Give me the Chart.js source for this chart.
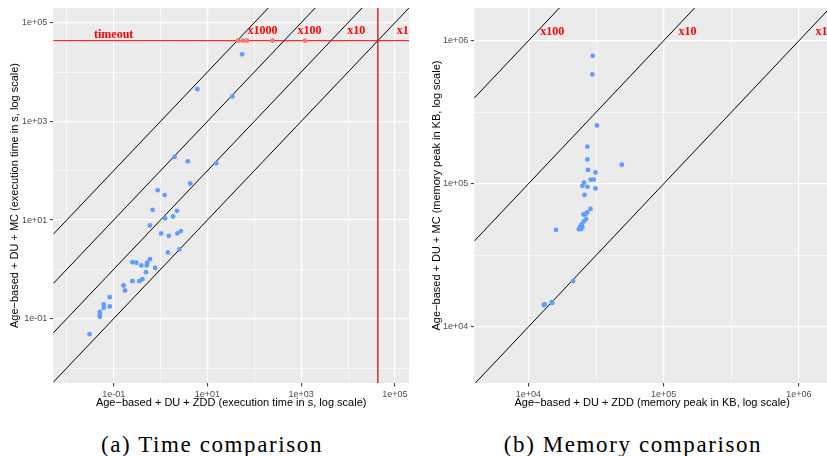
<!DOCTYPE html>
<html lang="en">
<head>
  <meta charset="UTF-8">
  <title>Time and memory comparison</title>
  <script src="https://cdn.jsdelivr.net/npm/chart.js@4/dist/chart.umd.min.js"></script>
  <style>
    html, body { margin: 0; padding: 0; background: #fff; overflow: hidden; }
    .panel { position: absolute; top: 0; height: 416px; overflow: hidden; }
    #panelA { left: 0; width: 413px; }
    #panelB { left: 415px; width: 412px; }
    .caption {
      position: absolute; top: 432px; width: 320px; text-align: center;
      font-family: "Liberation Serif", serif; font-size: 23px; color: #000;
      letter-spacing: 1.6px; white-space: nowrap;
    }
  </style>
</head>
<body>
  <div class="panel" id="panelA"><canvas id="timeChart" width="413" height="416"></canvas></div>
  <div class="panel" id="panelB"><canvas id="memChart" width="419" height="416"></canvas></div>
  <div class="caption" style="left:52px">(a) Time comparison</div>
  <div class="caption" style="left:473px">(b) Memory comparison</div>
<script>
  // execution time (s): ZDD variant on x, MC variant on y
  const timeZdd = [55, 6.1, 34, 2.0, 3.8, 15.4, 4.3, 0.87, 1.23, 0.68, 2.24, 1.25, 1.85, 0.59,
    1.03, 1.50, 2.29, 2.72, 1.43, 2.52, 0.252, 0.305, 0.39, 0.507, 0.521, 0.594, 0.769, 0.49,
    0.252, 0.354, 0.409, 0.163, 0.174, 0.0824, 0.0824, 0.0615, 0.0615, 0.0507, 0.0507, 0.0507, 0.0307];
  const timeMc = [22900, 4500, 3200, 190, 155, 141, 55, 40, 32, 16.1, 15.4, 10.8, 11.8, 7.76,
    5.35, 4.78, 5.35, 5.96, 2.20, 2.54, 1.40, 1.36, 1.20, 1.20, 1.36, 1.61, 1.07, 0.877,
    0.577, 0.577, 0.633, 0.471, 0.373, 0.273, 0.177, 0.194, 0.166, 0.137, 0.122, 0.109, 0.0485];
  // runs where MC hit the timeout
  const TIMEOUT = 43200;
  const timeoutZdd = [45, 57, 70, 245, 1200];

  // memory peak (KB)
  const memZdd = [29900, 29700, 32100, 27300, 27300, 49000, 27600, 31300, 28900, 30400, 25800,
    25100, 27300, 31300, 26000, 28800, 27200, 25500, 26400, 26700, 25700, 24700, 24100, 25100,
    23600, 24500, 16000, 21400, 13200, 13000, 15000, 14900];
  const memMc = [785000, 582000, 256000, 182000, 148000, 136000, 125000, 120000, 107000, 107000,
    102000, 96900, 95300, 92900, 83800, 66800, 63100, 61100, 61100, 56600, 54600, 52000, 50000,
    50000, 48200, 48200, 47600, 20900, 14400, 14200, 14700, 14900];

  // ratio lines y = r * x and their labels
  const timeRatios = [1000, 100, 10, 1];
  const timeRatioLabelX = [150, 1500, 15000, 146000];
  const timeRatioLabelY = 67000;
  const timeoutLabelX = 0.1;
  const timeoutLabelY = 55700;
  const memRatios = [100, 10, 1];
  const memRatioLabelX = [15000, 150000, 1470000];
  const memRatioLabelY = 1145000;

  // tick values
  const timeMajor = [1e-1, 1e1, 1e3, 1e5];
  const timeMinor = [1e-2, 1, 1e2, 1e4];
  const memMajor = [1e4, 1e5, 1e6];
  const memMinor = [31622.8, 316228];

  const BLUE = '#619CFF';
  const SALMON = '#F8766D';

  function sci(v) {
    const e = Math.round(Math.log10(v));
    const a = Math.abs(e);
    return '1e' + (e < 0 ? '-' : '+') + (a < 10 ? '0' + a : a);
  }
  function isIn(list, v) {
    return list.some(m => Math.abs(Math.log10(m) - Math.log10(v)) < 1e-6);
  }

  // grey panel background, ggplot style
  const panelBg = {
    id: 'panelBg',
    beforeDraw(chart) {
      const {ctx, chartArea: a} = chart;
      ctx.save();
      ctx.fillStyle = '#EBEBEB';
      ctx.fillRect(a.left, a.top, a.right - a.left, a.bottom - a.top);
      ctx.restore();
    }
  };

  // red annotation texts at data coordinates
  const ratioText = {
    id: 'ratioText',
    afterDatasetsDraw(chart, args, opts) {
      const {ctx, chartArea: a, scales} = chart;
      ctx.save();
      ctx.beginPath();
      ctx.rect(a.left, a.top, a.right - a.left, a.bottom - a.top);
      ctx.clip();
      ctx.fillStyle = '#FF0000';
      ctx.font = 'bold 12px "Liberation Serif"';
      ctx.textAlign = 'center';
      ctx.textBaseline = 'middle';
      opts.labels.forEach(l => {
        ctx.fillText(l.text, scales.x.getPixelForValue(l.x), scales.y.getPixelForValue(l.y));
      });
      ctx.restore();
    }
  };

  function axis(range, major, minor, title, titlePad, fitFn) {
    return {
      type: 'logarithmic',
      min: range[0],
      max: range[1],
      bounds: 'data',
      afterBuildTicks: s => {
        s.ticks = major.concat(minor).sort((p, q) => p - q).map(v => ({value: v}));
      },
      afterFit: fitFn,
      border: {display: false},
      grid: {
        color: '#FFFFFF',
        lineWidth: c => isIn(major, c.tick.value) ? 1.2 : 0.6,
        tickColor: c => isIn(major, c.tick.value) ? '#333333' : 'rgba(0,0,0,0)',
        tickWidth: 1,
        tickLength: 3.5,
        drawTicks: true
      },
      ticks: {
        autoSkip: false,
        maxRotation: 0,
        padding: 2.5,
        color: '#4D4D4D',
        font: {family: 'Liberation Sans', size: 9},
        callback: v => isIn(major, v) ? sci(v) : ''
      },
      title: {
        display: true,
        text: title,
        color: '#000000',
        font: {family: 'Liberation Sans', size: 11},
        padding: titlePad
      }
    };
  }

  function makePanel(id, o) {
    const xr = o.xRange, yr = o.yRange;
    const datasets = [{
      data: o.xs.map((x, i) => ({x: x, y: o.ys[i]})),
      backgroundColor: BLUE, borderWidth: 0, pointRadius: 2.4
    }];
    if (o.tx) {
      datasets.push({
        data: o.tx.map(x => ({x: x, y: TIMEOUT})),
        backgroundColor: SALMON, borderWidth: 0, pointRadius: 2.4
      });
      datasets.push({
        data: [{x: xr[0], y: TIMEOUT}, {x: xr[1], y: TIMEOUT}],
        showLine: true, borderColor: '#FF0000', borderWidth: 1, pointRadius: 0, clip: 0
      });
      datasets.push({
        data: [{x: TIMEOUT, y: yr[0]}, {x: TIMEOUT, y: yr[1]}],
        showLine: true, borderColor: '#CC0000', borderWidth: 1.2, pointRadius: 0, clip: 0
      });
    }
    o.ratios.forEach(r => {
      datasets.push({
        data: [{x: xr[0], y: r * xr[0]}, {x: xr[1], y: r * xr[1]}],
        showLine: true, borderColor: '#000000', borderWidth: 1, pointRadius: 0, clip: 0
      });
    });

    return new Chart(document.getElementById(id).getContext('2d'), {
      type: 'scatter',
      data: {datasets: datasets},
      options: {
        responsive: false,
        animation: false,
        layout: {padding: {top: 8, left: 0, right: 0, bottom: 0}},
        plugins: {
          legend: {display: false},
          tooltip: {enabled: false},
          ratioText: {labels: o.labels}
        },
        scales: {
          x: axis(xr, o.xMajor, o.xMinor, o.xTitle, {bottom: 6.7}, s => { s.height = 33; }),
          y: axis(yr, o.yMajor, o.yMinor, o.yTitle, {top: o.yTitlePad}, s => { s.width = o.yWidth; })
        }
      },
      plugins: [panelBg, ratioText]
    });
  }

  const timeLabels = timeRatios.map((r, i) => ({text: 'x' + r, x: timeRatioLabelX[i], y: timeRatioLabelY}));
  timeLabels.push({text: 'timeout', x: timeoutLabelX, y: timeoutLabelY});

  makePanel('timeChart', {
    xs: timeZdd, ys: timeMc, tx: timeoutZdd,
    xRange: [0.00516, 199500], yRange: [0.00497, 198600],
    xMajor: timeMajor, xMinor: timeMinor, yMajor: timeMajor, yMinor: timeMinor,
    ratios: timeRatios, labels: timeLabels,
    xTitle: 'Age\u2212based + DU + ZDD (execution time in s, log scale)',
    yTitle: 'Age\u2212based + DU + MC (execution time in s, log scale)',
    yWidth: 53.3, yTitlePad: 8.4
  });

  makePanel('memChart', {
    xs: memZdd, ys: memMc,
    xRange: [3981, 1698000], yRange: [4055, 1694000],
    xMajor: memMajor, xMinor: memMinor, yMajor: memMajor, yMinor: memMinor,
    ratios: memRatios,
    labels: memRatios.map((r, i) => ({text: 'x' + r, x: memRatioLabelX[i], y: memRatioLabelY})),
    xTitle: 'Age\u2212based + DU + ZDD (memory peak in KB, log scale)',
    yTitle: 'Age\u2212based + DU + MC (memory peak in KB, log scale)',
    yWidth: 59.3, yTitlePad: 15.1
  });
</script>
</body>
</html>
